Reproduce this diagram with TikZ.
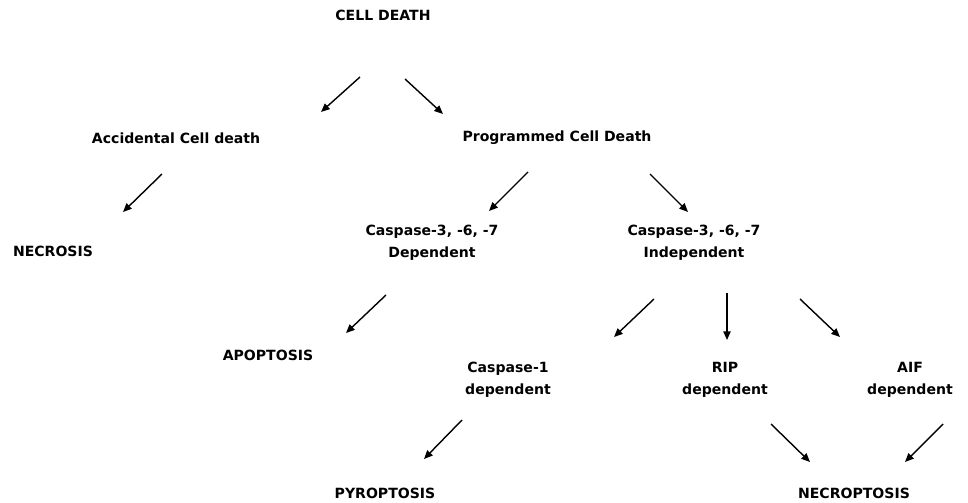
\documentclass[tikz,border=0pt]{standalone}
\usepackage{fontspec}
\setmainfont{DejaVu Sans}
\usetikzlibrary{arrows.meta}
\tikzset{
  every picture/.style={font=\bfseries\fontsize{12}{18.8}\selectfont, line width=1.2pt},
  term/.style={align=center, inner sep=1pt},
  arrow/.style={-{Triangle[length=2.6mm, width=2.2mm]}, draw=black},
}

\begin{document}
\begin{tikzpicture}[x=0.03cm, y=-0.03cm]
  \useasboundingbox (0,0) rectangle (968,503);
  % terms
  \node[term] (cd)   at (383,15)  {CELL DEATH};
  \node[term] (acc)  at (176,138) {Accidental Cell death};
  \node[term] (prog) at (557,138) {Programmed Cell Death};
  \node[term] (nec)  at (53,251)  {NECROSIS};
  \node[term] (dep)  at (432,243) {Caspase-3, -6, -7\\Dependent};
  \node[term] (ind)  at (694,243) {Caspase-3, -6, -7\\Independent};
  \node[term] (apo)  at (268,355) {APOPTOSIS};
  \node[term] (casp) at (508,380) {Caspase-1\\dependent};
  \node[term] (rip)  at (725,380) {RIP\\dependent};
  \node[term] (aif)  at (910,380) {AIF\\dependent};
  \node[term] (pyro) at (385,493) {PYROPTOSIS};
  \node[term] (necr) at (854,493) {NECROPTOSIS};
  % arrow ends (the arrows float between the terms)
  \foreach \n/\a/\b/\c/\d in {cdacc/360/77/321/112, cdprog/405/79/443/114,
      accnec/162/174/123/212, progdep/528/172/489/211, progind/650/174/688/212,
      depapo/386/295/346/333, indcasp/654/299/614/337, indrip/727/293/727/340,
      indaif/800/299/840/337, casppyro/462/420/424/459, ripnecr/771/424/810/462,
      aifnecr/943/424/905/462} {
    \coordinate (\n-s) at (\a,\b);
    \coordinate (\n-e) at (\c,\d);
    \draw[arrow] (\n-s) -- (\n-e);
  }
\end{tikzpicture}
\end{document}
